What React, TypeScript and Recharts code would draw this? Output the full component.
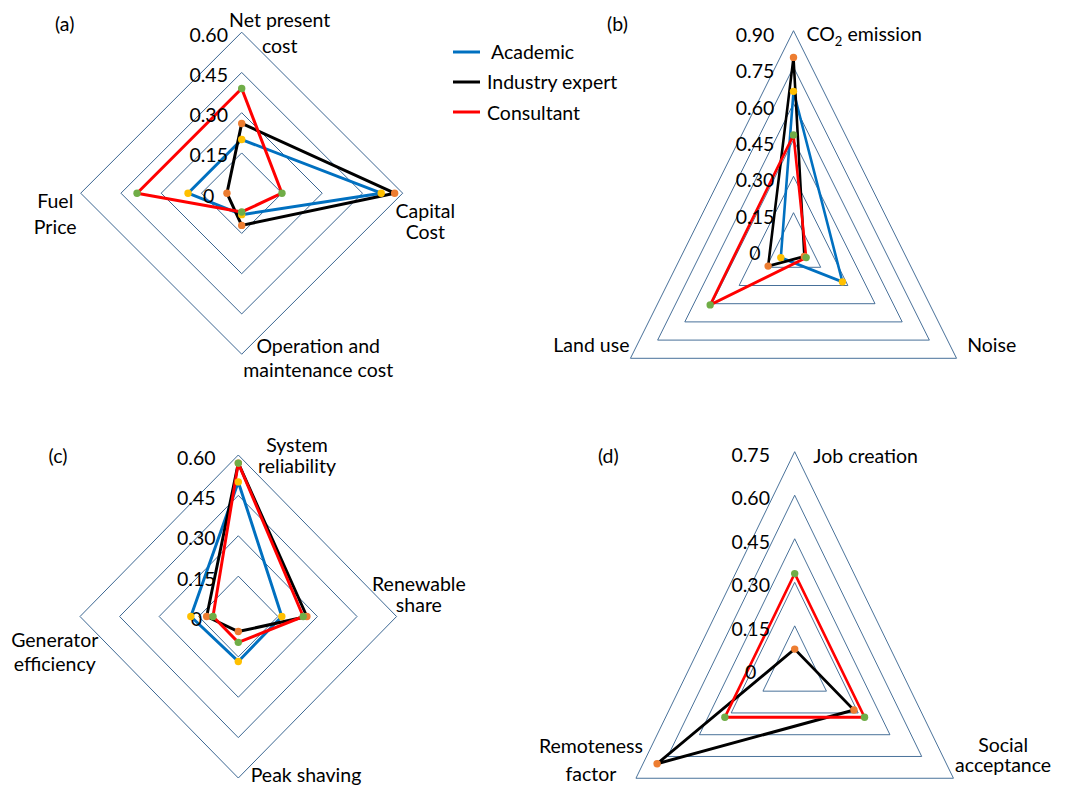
import React from 'react';
import { RadarChart, Radar, PolarGrid, PolarAngleAxis, PolarRadiusAxis, Legend } from 'recharts';

const W = 1072;
const H = 785;
const FONT = 'Lato, "Open Sans", sans-serif';
const FS = 19.5;
const DOT_R = 3.7;
const GRID_COLOR = '#3A6591';

// ---------- data ----------
const SERIES_NAMES = ['Academic', 'Industry expert', 'Consultant'];
const SERIES_KEYS = ['academic', 'expert', 'consultant'];
const LINE_COLORS = ['#0070C0', '#000000', '#FF0000'];
const MARKER_COLORS = ['#FFC000', '#ED7D31', '#70AD47'];

// (a) economic criteria
const ECON_CATEGORIES = ['Net present\ncost', 'Capital\nCost', 'Operation and\nmaintenance cost', 'Fuel\nPrice'];
const ECON_ACADEMIC = [0.2, 0.52, 0.08, 0.2];
const ECON_EXPERT = [0.26, 0.57, 0.12, 0.055];
const ECON_CONSULTANT = [0.39, 0.15, 0.07, 0.39];
const ECON_TICKS = [0, 0.15, 0.3, 0.45, 0.6];

// (b) environmental criteria
const ENV_CATEGORIES = ['CO2 emission', 'Noise', 'Land use'];
const ENV_ACADEMIC = [0.65, 0.27, 0.07];
const ENV_EXPERT = [0.79, 0.06, 0.14];
const ENV_CONSULTANT = [0.47, 0.07, 0.46];
const ENV_TICKS = [0, 0.15, 0.3, 0.45, 0.6, 0.75, 0.9];

// (c) technical criteria
const TECH_CATEGORIES = ['System\nreliability', 'Renewable\nshare', 'Peak shaving', 'Generator\nefficiency'];
const TECH_ACADEMIC = [0.5, 0.165, 0.167, 0.18];
const TECH_EXPERT = [0.57, 0.26, 0.056, 0.12];
const TECH_CONSULTANT = [0.57, 0.246, 0.096, 0.096];
const TECH_TICKS = [0, 0.15, 0.3, 0.45, 0.6];

// (d) social criteria
const SOC_CATEGORIES = ['Job creation', 'Social\nacceptance', 'Remoteness\nfactor'];
const SOC_EXPERT = [0.07, 0.28, 0.65];
const SOC_CONSULTANT = [0.33, 0.33, 0.33];
const SOC_TICKS = [0, 0.15, 0.3, 0.45, 0.6, 0.75];

function buildRows(categories: string[], series: Record<string, number[] | undefined>) {
  return categories.map((c, i) => {
    const row: any = { category: c };
    Object.keys(series).forEach((k) => {
      const arr = series[k];
      if (arr) row[k] = arr[i];
    });
    return row;
  });
}

const ECON_DATA = buildRows(ECON_CATEGORIES, { academic: ECON_ACADEMIC, expert: ECON_EXPERT, consultant: ECON_CONSULTANT });
const ENV_DATA = buildRows(ENV_CATEGORIES, { academic: ENV_ACADEMIC, expert: ENV_EXPERT, consultant: ENV_CONSULTANT });
const TECH_DATA = buildRows(TECH_CATEGORIES, { academic: TECH_ACADEMIC, expert: TECH_EXPERT, consultant: TECH_CONSULTANT });
const SOC_DATA = buildRows(SOC_CATEGORIES, { expert: SOC_EXPERT, consultant: SOC_CONSULTANT });

// ---------- layout ----------
type LabelSpec = { anchor: 'start' | 'middle' | 'end'; dx: number; dys: number[] };
// r = pixel radius of the outermost ring (largest tick); k = horizontal squeeze of the panel
type Geo = { cx: number; cy: number; r: number; k: number; tickDx: number; tickDy: number; labels: LabelSpec[] };

const GEO_A: Geo = {
  cx: 241.7, cy: 193.2, r: 161, k: 1, tickDx: -33, tickDy: 2,
  labels: [
    { anchor: 'middle', dx: 38, dys: [-5.5, 20.5] },
    { anchor: 'middle', dx: 22.6, dys: [25, 45.5] },
    { anchor: 'middle', dx: 76.5, dys: [-1, 23] },
    { anchor: 'middle', dx: -25.5, dys: [15, 41] },
  ],
};
const GEO_B: Geo = {
  cx: 793.5, cy: 249.1, r: 218.4, k: 0.862, tickDx: -38.5, tickDy: 3.5,
  labels: [
    { anchor: 'start', dx: 13, dys: [10.5] },
    { anchor: 'start', dx: 10.6, dys: [-6.6] },
    { anchor: 'end', dx: -1, dys: [-6.6] },
  ],
};
const GEO_C: Geo = {
  cx: 238.3, cy: 616.5, r: 161.5, k: 0.98, tickDx: -42, tickDy: 2,
  labels: [
    { anchor: 'middle', dx: 58.7, dys: [-3.3, 18.3] },
    { anchor: 'middle', dx: 22.3, dys: [-25.8, -4.8] },
    { anchor: 'middle', dx: 67.7, dys: [3.7] },
    { anchor: 'middle', dx: -25.3, dys: [30, 54] },
  ],
};
const GEO_D: Geo = {
  cx: 794.7, cy: 669.4, r: 217.7, k: 0.842, tickDx: -44, tickDy: 2.5,
  labels: [
    { anchor: 'start', dx: 18.6, dys: [11.3] },
    { anchor: 'middle', dx: 49.7, dys: [-26.6, -6.6] },
    { anchor: 'middle', dx: -45, dys: [-25, 2.4] },
  ],
};

const PANEL_TAGS = [
  { text: '(a)', x: 64.7, y: 23 },
  { text: '(b)', x: 617.5, y: 23 },
  { text: '(c)', x: 58, y: 455 },
  { text: '(d)', x: 608.3, y: 455 },
];

// ---------- renderers ----------
function chemText(line: string) {
  if (line.startsWith('CO2')) {
    return [
      <tspan key="a">CO</tspan>,
      <tspan key="b" dy={5} fontSize={13}>2</tspan>,
      <tspan key="c" dy={-5}>{line.slice(3)}</tspan>,
    ];
  }
  return line;
}

const makeAngleTick = (geo: Geo, categories: string[]) => (props: any) => {
  const { payload } = props;
  const idx = categories.indexOf(payload.value);
  const spec = geo.labels[idx] || { anchor: 'middle', dx: 0, dys: [0] };
  const ang = Number(payload.coordinate);
  const rad = (-ang * Math.PI) / 180;
  const vx = geo.cx + Math.cos(rad) * geo.r;
  const vy = geo.cy + Math.sin(rad) * geo.r;
  const lines = String(payload.value).split('\n');
  return (
    <g transform={`translate(${vx + spec.dx / geo.k},${vy}) scale(${1 / geo.k},1)`}>
      <text textAnchor={spec.anchor} fontSize={FS} fontFamily={FONT} fill="#000">
        {lines.map((ln, i) => (
          <tspan key={i} x={0} y={spec.dys[i] ?? 0}>
            {chemText(ln)}
          </tspan>
        ))}
      </text>
    </g>
  );
};

const makeRadiusTick = (geo: Geo) => (props: any) => {
  const { x, y, payload } = props;
  const v = Number(payload.value);
  const label = v === 0 ? '0' : v.toFixed(2);
  return (
    <g transform={`translate(${x + geo.tickDx / geo.k},${y + geo.tickDy}) scale(${1 / geo.k},1)`}>
      <text x={0} y={0} textAnchor="middle" dominantBaseline="central" fontSize={FS} fontFamily={FONT} fill="#000">
        {label}
      </text>
    </g>
  );
};

const makeDot = (color: string, k: number) => (props: any) => {
  if (props.cx == null || props.cy == null) return <g key={`dot-${props.index}`} />;
  return <ellipse key={`dot-${props.index}`} cx={props.cx} cy={props.cy} rx={DOT_R / k} ry={DOT_R} fill={color} stroke="none" />;
};

const renderLegend = (props: any) => {
  const payload = [...(props.payload || [])].sort(
    (a: any, b: any) => SERIES_NAMES.indexOf(a.value) - SERIES_NAMES.indexOf(b.value)
  );
  return (
    <div style={{ fontFamily: FONT, fontSize: FS, color: '#000' }}>
      {payload.map((e: any, i: number) => {
        const idx = SERIES_NAMES.indexOf(e.value);
        const color = idx >= 0 ? LINE_COLORS[idx] : e.color;
        return (
          <div key={i} style={{ display: 'flex', alignItems: 'center', height: 30.3, whiteSpace: 'nowrap' }}>
            <svg width={27} height={4} style={{ marginRight: idx === 0 ? 11 : 7, display: 'block' }}>
              <line x1={0} y1={2} x2={27} y2={2} stroke={color} strokeWidth={3} />
            </svg>
            <span>{e.value}</span>
          </div>
        );
      })}
    </div>
  );
};

type PanelProps = {
  geo: Geo;
  data: any[];
  categories: string[];
  ticks: number[];
  keys: string[];
  legend?: boolean;
};

const CW = 1400;

function Panel({ geo, data, categories, ticks, keys, legend }: PanelProps) {
  const max = ticks[ticks.length - 1];
  // the radius axis runs over [0, 1]; the outer radius is sized so the largest tick lands on geo.r
  const outer = geo.r / max;
  return (
    <div
      style={{
        position: 'absolute',
        left: 0,
        top: 0,
        width: CW,
        height: H,
        transform: `scaleX(${geo.k})`,
        transformOrigin: `${geo.cx}px ${geo.cy}px`,
      }}
    >
      <RadarChart
        width={CW}
        height={H}
        data={data}
        cx={geo.cx}
        cy={geo.cy}
        innerRadius={0}
        outerRadius={outer}
        margin={{ top: 0, right: 0, bottom: 0, left: 0 }}
      >
        <PolarGrid gridType="polygon" radialLines={false} stroke={GRID_COLOR} strokeWidth={1} />
        <PolarAngleAxis dataKey="category" axisLine={false} tickLine={false} tick={makeAngleTick(geo, categories)} />
        <PolarRadiusAxis
          angle={90}
          type="number"
          domain={[0, 1]}
          ticks={ticks as any}
          axisLine={false}
          tickLine={false}
          tick={makeRadiusTick(geo)}
        />
        {SERIES_KEYS.map((key, i) =>
          keys.includes(key) ? (
            <Radar
              key={key}
              name={SERIES_NAMES[i]}
              dataKey={key}
              stroke={LINE_COLORS[i]}
              strokeWidth={3}
              strokeLinejoin="round"
              fill="none"
              fillOpacity={0}
              dot={makeDot(MARKER_COLORS[i], geo.k)}
              activeDot={false}
              isAnimationActive={false}
            />
          ) : null
        )}
        {legend ? (
          <Legend
            layout="vertical"
            align="right"
            verticalAlign="top"
            content={renderLegend}
            wrapperStyle={{ left: 453, top: 36.5, right: 'auto', bottom: 'auto', width: 190 }}
          />
        ) : null}
      </RadarChart>
    </div>
  );
}

export default function App() {
  return (
    <div style={{ position: 'absolute', left: 0, top: 0, width: W, height: H, background: '#fff', overflow: 'hidden' }}>
      <Panel geo={GEO_A} data={ECON_DATA} categories={ECON_CATEGORIES} ticks={ECON_TICKS} keys={['academic', 'expert', 'consultant']} legend />
      <Panel geo={GEO_B} data={ENV_DATA} categories={ENV_CATEGORIES} ticks={ENV_TICKS} keys={['academic', 'expert', 'consultant']} />
      <Panel geo={GEO_C} data={TECH_DATA} categories={TECH_CATEGORIES} ticks={TECH_TICKS} keys={['academic', 'expert', 'consultant']} />
      <Panel geo={GEO_D} data={SOC_DATA} categories={SOC_CATEGORIES} ticks={SOC_TICKS} keys={['expert', 'consultant']} />
      <svg width={W} height={H} style={{ position: 'absolute', left: 0, top: 0, pointerEvents: 'none' }}>
        {PANEL_TAGS.map((t) => (
          <text key={t.text} x={t.x} y={t.y} textAnchor="middle" dominantBaseline="central" fontSize={FS} fontFamily={FONT} fill="#000">
            {t.text}
          </text>
        ))}
      </svg>
    </div>
  );
}
